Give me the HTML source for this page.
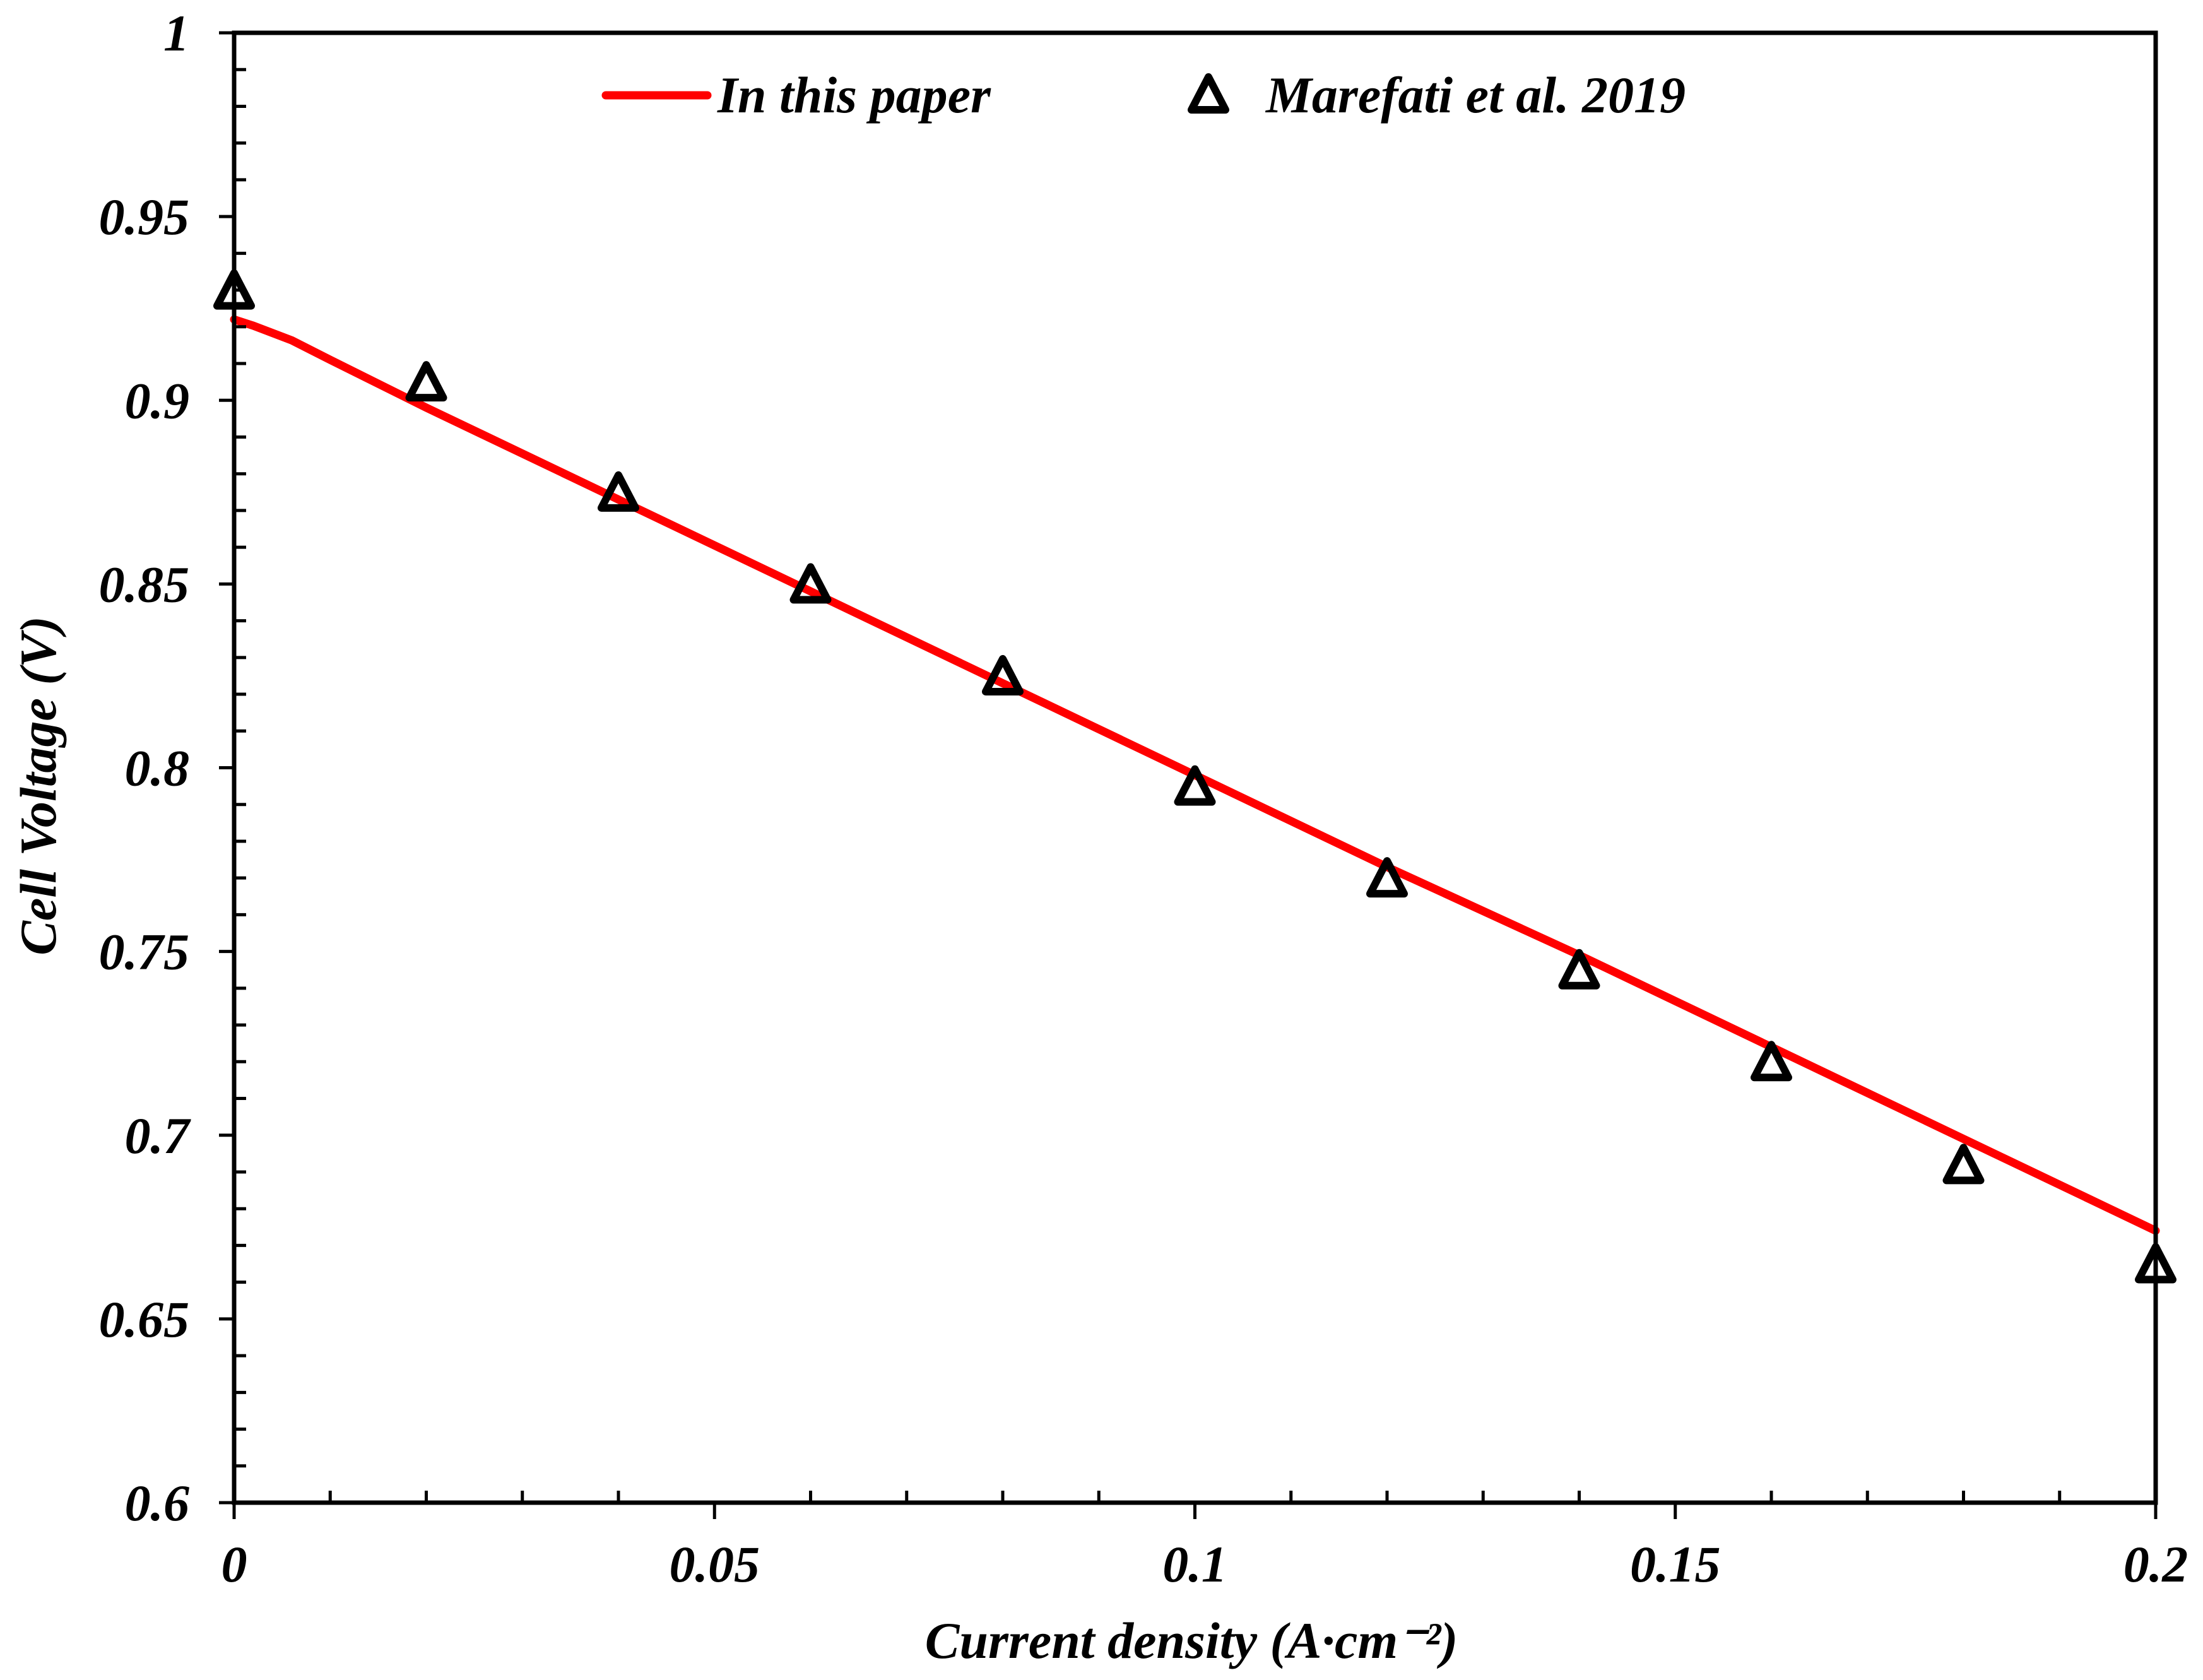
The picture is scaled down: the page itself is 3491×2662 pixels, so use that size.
<!DOCTYPE html>
<html><head><meta charset="utf-8"><style>
html,body{margin:0;padding:0;background:#fff;}
svg{display:block;}
text{font-family:"Liberation Serif",serif;font-weight:bold;font-style:italic;fill:#000;}
</style></head><body>
<svg id="chart" width="3491" height="2662" viewBox="0 0 3491 2662" xmlns="http://www.w3.org/2000/svg">
<rect x="0" y="0" width="3491" height="2662" fill="#fff"/>
<g id="marks"></g>
<g id="axes"></g>
<text transform="translate(88,1245) rotate(-90)" text-anchor="middle" font-size="82">Cell Voltage (V)</text>
<text x="1888" y="2627" text-anchor="middle" font-size="82">Current density (A·cm⁻²)</text>
<g>
<line x1="960" y1="151" x2="1121" y2="151" stroke="#ff0000" stroke-width="13" stroke-linecap="round"/>
<text x="1137" y="178" font-size="82">In this paper</text>
<path d="M1915,122 L1942,174 L1888,174 Z" fill="none" stroke="#000" stroke-width="12" stroke-linejoin="round"/>
<text x="2006" y="178" font-size="82">Marefati et al. 2019</text>
</g>
</svg>
<script>
const modelX = [0, 0.002, 0.006, 0.01, 0.02, 0.04, 0.06, 0.08, 0.1, 0.12, 0.14, 0.16, 0.18, 0.2];
const modelY = [0.922, 0.9203, 0.9163, 0.911, 0.898, 0.873, 0.848, 0.823, 0.798, 0.773, 0.749, 0.724, 0.699, 0.674];
const expX = [0, 0.02, 0.04, 0.06, 0.08, 0.1, 0.12, 0.14, 0.16, 0.18, 0.2];
const expY = [0.93, 0.905, 0.875, 0.85, 0.825, 0.795, 0.77, 0.745, 0.72, 0.692, 0.665];
const xTicks = [0, 0.05, 0.1, 0.15, 0.2];
const xTickLabels = ["0", "0.05", "0.1", "0.15", "0.2"];
const yTicks = [0.6, 0.65, 0.7, 0.75, 0.8, 0.85, 0.9, 0.95, 1];
const yTickLabels = ["0.6", "0.65", "0.7", "0.75", "0.8", "0.85", "0.9", "0.95", "1"];

const X0 = 371, X1 = 3416, Y0 = 2381, Y1 = 52;
const xMin = 0, xMax = 0.2, yMin = 0.6, yMax = 1;
function sx(v){ return X0 + (v - xMin) / (xMax - xMin) * (X1 - X0); }
function sy(v){ return Y0 - (v - yMin) / (yMax - yMin) * (Y0 - Y1); }
const NS = "http://www.w3.org/2000/svg";
const axes = document.getElementById('axes');
const marks = document.getElementById('marks');
function mk(tag, attrs, parent){
  const e = document.createElementNS(NS, tag);
  for (const k in attrs) e.setAttribute(k, attrs[k]);
  parent.appendChild(e);
  return e;
}
let fr = mk('rect', {x:X0, y:Y1, width:X1-X0, height:Y0-Y1, fill:'none', stroke:'#000', 'stroke-width':7}, axes);


for (let i = 1; i < 20; i++) {
  const v = i * 0.01;
  if (i % 5 === 0) continue;
  const t = mk('line', {x1:sx(v), y1:Y0, x2:sx(v), y2:Y0-19, stroke:'#000', 'stroke-width':5}, axes);
  
  
}
for (let i = 1; i < 40; i++) {
  if (i % 5 === 0) continue;
  const v = 0.6 + i * 0.01;
  const t = mk('line', {x1:X0, y1:sy(v), x2:X0+19, y2:sy(v), stroke:'#000', 'stroke-width':5}, axes);
  
  
}
xTicks.forEach((v, i) => {
  const t = mk('line', {x1:sx(v), y1:Y0, x2:sx(v), y2:Y0+26, stroke:'#000', 'stroke-width':5}, axes);
  
  
  const l = mk('text', {x:sx(v), y:2506, 'text-anchor':'middle', 'font-size':82}, axes);
  l.textContent = xTickLabels[i];
  
  
});
yTicks.forEach((v, i) => {
  const t = mk('line', {x1:X0-24, y1:sy(v), x2:X0, y2:sy(v), stroke:'#000', 'stroke-width':5}, axes);
  
  
  const l = mk('text', {x:300, y:sy(v)+28, 'text-anchor':'end', 'font-size':82}, axes);
  l.textContent = yTickLabels[i];
  
  
});
let d = modelX.map((x, i) => (i ? 'L' : 'M') + sx(x).toFixed(1) + ',' + sy(modelY[i]).toFixed(1)).join(' ');
const ln = mk('path', {d:d, fill:'none', stroke:'#ff0000', 'stroke-width':13, 'stroke-linecap':'round', 'stroke-linejoin':'round'}, marks);


expX.forEach((x, i) => {
  const cx = sx(x), cy = sy(expY[i]);
  const p = mk('path', {d:`M${cx},${cy-27} L${cx+27},${cy+25} L${cx-27},${cy+25} Z`, fill:'none', stroke:'#000', 'stroke-width':12, 'stroke-linejoin':'round'}, marks);
  
  
});
</script>
</body></html>
